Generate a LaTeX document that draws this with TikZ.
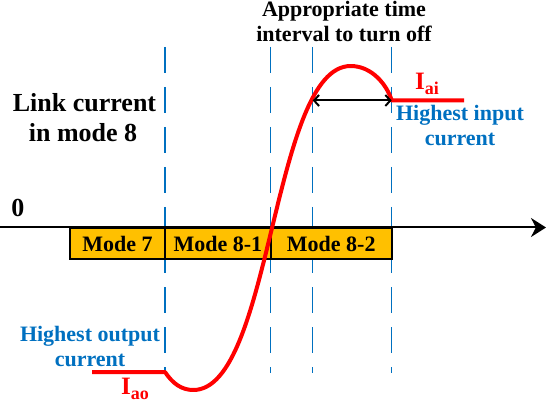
\documentclass[tikz,border=0pt]{standalone}
\usepackage{fontspec}
\setmainfont{Liberation Serif}
\usetikzlibrary{arrows.meta}
\definecolor{myblue}{HTML}{0070C0}
\definecolor{myorange}{HTML}{FFC000}
\definecolor{myred}{HTML}{FF0000}
\begin{document}
\begin{tikzpicture}[x=1pt,y=-1pt,
  txt/.style={inner sep=0pt, anchor=base, font=\bfseries\fontsize{22}{26}\selectfont},
  bigtxt/.style={inner sep=0pt, anchor=base, font=\bfseries\fontsize{26}{30}\selectfont},
  bluetxt/.style={txt, text=myblue},
  curlabel/.style={inner sep=0pt, anchor=base west, text=myred, font=\bfseries\fontsize{25}{30}\selectfont},
  guide/.style={myblue, line width=1.5pt, dash pattern=on 26pt off 14pt},
  wave/.style={myred, line width=4pt, line join=round},
  modebox/.style={draw=black, line width=2pt, fill=myorange, inner sep=0pt,
    minimum height=31pt, font=\bfseries\fontsize{22}{26}\selectfont},
  axisline/.style={line width=2pt, -{Stealth[length=15pt,width=19pt]}},
  span/.style={line width=2pt, {Straight Barb[length=5pt,width=11pt]}-{Straight Barb[length=5pt,width=11pt]}}
]
\useasboundingbox (0,0) rectangle (546,406);

% guide lines
\foreach \n/\x in {a/165,b/270.7,c/312.7,d/391.7}{
  \coordinate (gt\n) at (\x,47);
  \coordinate (gb\n) at (\x,373);
  \draw[guide] (gt\n) -- (gb\n);
}

% axis
\coordinate (axL) at (0,227.5);
\coordinate (axR) at (546,227.5);
\draw[axisline] (axL) -- (axR);
\node[bigtxt] (zero) at (18,217) {0};

% mode boxes
\node[modebox, minimum width=95pt] (m7) at (117.5,243.5) {Mode 7};
\node[modebox, minimum width=105.7pt] (m81) at (217.85,243.5) {Mode 8-1};
\node[modebox, minimum width=121pt] (m82) at (331.2,243.5) {Mode 8-2};

% current waveform
\coordinate (ao0) at (92,372);
\coordinate (ao1) at (165,372);
\coordinate (mn) at (193.3,390);
\coordinate (pk) at (350.7,66);
\coordinate (ai0) at (391.7,100.5);
\coordinate (ai1) at (464,100.5);
\coordinate (ta) at (312.7,100.5);
\draw[wave] (ao0) -- (ao1) .. controls (173,384) and (182,390) .. (mn)
  .. controls (272,390) and (272,66) .. (pk)
  .. controls (372,66) and (387,85) .. (ai0) -- (ai1);

% time interval arrow
\draw[span] (ta) -- (ai0);

% texts
\node[txt] (tit1) at (344,17) {Appropriate time};
\node[txt] (tit2) at (344,41.7) {interval to turn off};
\node[bigtxt] (lk1) at (84.5,112) {Link current};
\node[bigtxt] (lk2) at (83,142) {in mode 8};
\node[bluetxt] (hi1) at (460,121) {Highest input};
\node[bluetxt] (hi2) at (460,146) {current};
\node[bluetxt] (ho1) at (90,341.7) {Highest output};
\node[bluetxt] (ho2) at (90,366.7) {current};
\node[curlabel] (iai) at (415,89.3) {I\raisebox{-5pt}{\fontsize{18}{18}\selectfont ai}};
\node[curlabel] (iao) at (121,394.3) {I\raisebox{-5pt}{\fontsize{18}{18}\selectfont ao}};
\end{tikzpicture}
\end{document}
